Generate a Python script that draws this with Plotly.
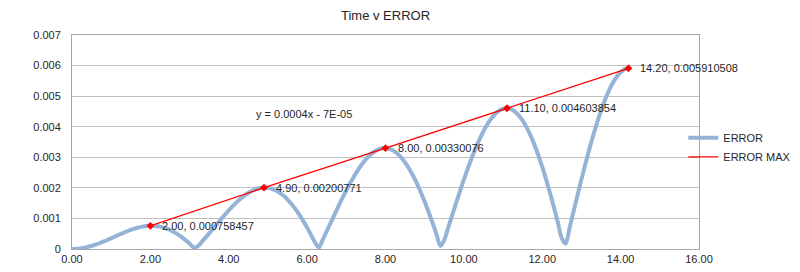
import plotly.graph_objects as go

# ---- data ----
time_s = [0.0, 0.1, 0.2, 0.3, 0.4, 0.5, 0.6, 0.7, 0.8, 0.9,
          1.0, 1.1, 1.2, 1.3, 1.4, 1.5, 1.6, 1.7, 1.8, 1.9,
          2.0, 2.1, 2.2, 2.3, 2.4, 2.5, 2.6, 2.7, 2.8, 2.9,
          3.0, 3.1, 3.2, 3.3, 3.4, 3.5, 3.6, 3.7, 3.8, 3.9,
          4.0, 4.1, 4.2, 4.3, 4.4, 4.5, 4.6, 4.7, 4.8, 4.9,
          5.0, 5.1, 5.2, 5.3, 5.4, 5.5, 5.6, 5.7, 5.8, 5.9,
          6.0, 6.1, 6.2, 6.3, 6.4, 6.5, 6.6, 6.7, 6.8, 6.9,
          7.0, 7.1, 7.2, 7.3, 7.4, 7.5, 7.6, 7.7, 7.8, 7.9,
          8.0, 8.1, 8.2, 8.3, 8.4, 8.5, 8.6, 8.7, 8.8, 8.9,
          9.0, 9.1, 9.2, 9.3, 9.4, 9.5, 9.6, 9.7, 9.8, 9.9,
          10.0, 10.1, 10.2, 10.3, 10.4, 10.5, 10.6, 10.7, 10.8, 10.9,
          11.0, 11.1, 11.2, 11.3, 11.4, 11.5, 11.6, 11.7, 11.8, 11.9,
          12.0, 12.1, 12.2, 12.3, 12.4, 12.5, 12.6, 12.7, 12.8, 12.9,
          13.0, 13.1, 13.2, 13.3, 13.4, 13.5, 13.6, 13.7, 13.8, 13.9,
          14.0, 14.1, 14.2]

error = [0.000000, 0.000004, 0.000017, 0.000037, 0.000065, 0.000100, 0.000141, 0.000188, 0.000239, 0.000294,
         0.000351, 0.000409, 0.000466, 0.000522, 0.000575, 0.000624, 0.000667, 0.000703, 0.000731, 0.000750,
         0.000758, 0.000756, 0.000742, 0.000715, 0.000676, 0.000624, 0.000559, 0.000481, 0.000391, 0.000289,
         0.000177, 0.000054, 0.000078, 0.000217, 0.000362, 0.000512, 0.000664, 0.000817, 0.000970, 0.001119,
         0.001262, 0.001399, 0.001526, 0.001643, 0.001746, 0.001834, 0.001906, 0.001960, 0.001994, 0.002007,
         0.001999, 0.001969, 0.001916, 0.001839, 0.001740, 0.001618, 0.001474, 0.001309, 0.001124, 0.000920,
         0.000699, 0.000463, 0.000215, 0.000044, 0.000311, 0.000583, 0.000857, 0.001131, 0.001401, 0.001664,
         0.001918, 0.002158, 0.002383, 0.002589, 0.002773, 0.002934, 0.003068, 0.003173, 0.003248, 0.003291,
         0.003301, 0.003276, 0.003217, 0.003122, 0.002993, 0.002830, 0.002634, 0.002405, 0.002146, 0.001859,
         0.001547, 0.001211, 0.000855, 0.000483, 0.000097, 0.000298, 0.000698, 0.001099, 0.001498, 0.001889,
         0.002269, 0.002633, 0.002977, 0.003297, 0.003590, 0.003852, 0.004079, 0.004268, 0.004418, 0.004525,
         0.004587, 0.004603, 0.004573, 0.004495, 0.004370, 0.004198, 0.003980, 0.003718, 0.003413, 0.003067,
         0.002685, 0.002269, 0.001822, 0.001350, 0.000856, 0.000346, 0.000177, 0.000706, 0.001236, 0.001762,
         0.002278, 0.002779, 0.003259, 0.003713, 0.004137, 0.004525, 0.004872, 0.005176, 0.005431, 0.005634,
         0.005783, 0.005876, 0.005910]

max_time = [2.0, 4.9, 8.0, 11.1, 14.2]
max_error = [0.000758457, 0.00200771, 0.00330076, 0.004603854, 0.005910508]

x_ticks = [0, 2, 4, 6, 8, 10, 12, 14, 16]
y_ticks = [0, 0.001, 0.002, 0.003, 0.004, 0.005, 0.006, 0.007]
y_ticktext = ["0", "0.001", "0.002", "0.003", "0.004", "0.005", "0.006", "0.007"]

title_text = "Time v ERROR"
trend_text = "y = 0.0004x - 7E-05"
trend_pos = (5.93, 0.0044)

max_labels = [f"{t:.2f}, {e}" for t, e in zip(max_time, max_error)]

FONT = "Liberation Sans, Arial, sans-serif"
TXT = "#262626"
GRID = "#c0c0c0"

fig = go.Figure()

fig.add_trace(go.Scatter(
    x=time_s, y=error, name="ERROR", mode="lines",
    line=dict(color="#95b3d7", width=4, shape="spline", smoothing=0.8),
))
fig.add_trace(go.Scatter(
    x=max_time, y=max_error, name="ERROR MAX", mode="lines",
    line=dict(color="#ff0000", width=1.3),
))
fig.add_trace(go.Scatter(
    x=max_time, y=max_error, mode="markers", showlegend=False,
    marker=dict(symbol="diamond", size=6, color="#ff0000"),
    cliponaxis=False,
))

for t, e, lab in zip(max_time, max_error, max_labels):
    fig.add_annotation(
        x=t, y=e, xref="x", yref="y", text=lab, showarrow=False,
        xanchor="left", yanchor="middle", xshift=10,
        font=dict(family=FONT, size=11, color=TXT),
    )

fig.add_annotation(
    x=trend_pos[0], y=trend_pos[1], xref="x", yref="y",
    text=trend_text, showarrow=False,
    font=dict(family=FONT, size=11, color=TXT),
)

fig.update_layout(
    width=800, height=272,
    margin=dict(l=72, r=101, t=35, b=23, autoexpand=False),
    paper_bgcolor="white", plot_bgcolor="white",
    font=dict(family=FONT, size=11, color=TXT),
    title=dict(text=title_text, x=0.5, xref="paper", xanchor="center",
               y=1 - 15 / 272, yanchor="middle",
               font=dict(family=FONT, size=13, color=TXT)),
    showlegend=True,
    legend=dict(x=0.975, y=0.475, xanchor="left", yanchor="middle",
                bgcolor="rgba(0,0,0,0)", itemwidth=30,
                font=dict(family=FONT, size=11, color=TXT),
                tracegroupgap=0),
)

fig.update_xaxes(
    range=[0, 16], tickvals=x_ticks, tickformat=".2f", automargin=False,
    showgrid=False, zeroline=False,
    showline=True, linecolor="#a6a6a6", linewidth=1, mirror=True,
    ticks="", tickfont=dict(family=FONT, size=11, color=TXT),
)
fig.update_yaxes(
    range=[0, 0.007], tickvals=y_ticks, ticktext=y_ticktext, automargin=False,
    showgrid=True, gridcolor=GRID, gridwidth=1, zeroline=False,
    showline=True, linecolor="#a6a6a6", linewidth=1, mirror=True,
    ticks="", ticklabelstandoff=8, tickfont=dict(family=FONT, size=11, color=TXT),
)

fig.write_html("out.html")
